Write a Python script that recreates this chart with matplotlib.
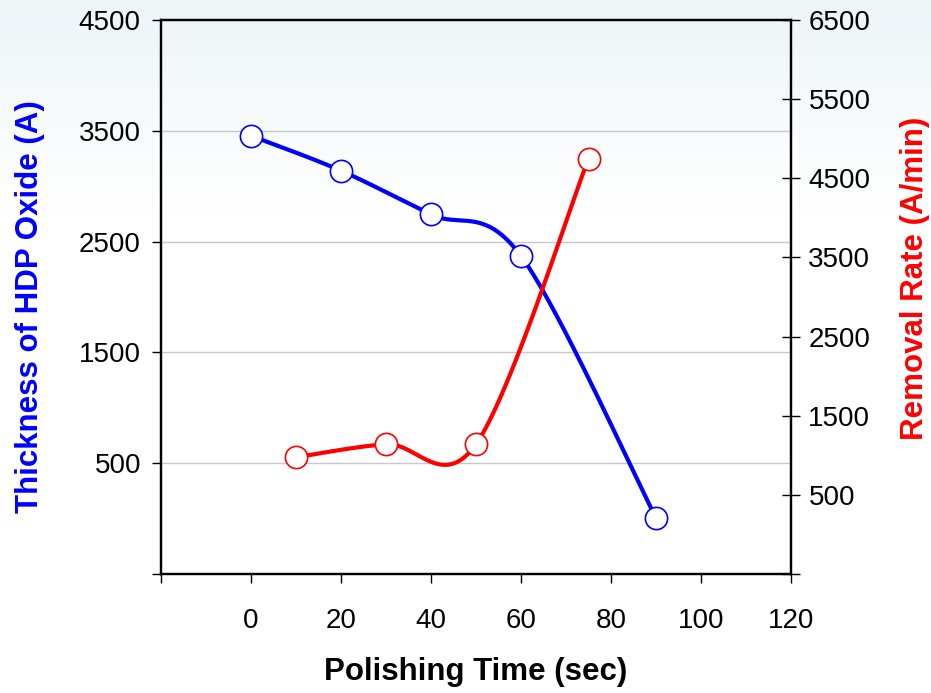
import matplotlib
matplotlib.use("Agg")
import matplotlib.pyplot as plt
import numpy as np

plt.rcParams['font.family'] = ['Liberation Sans', 'DejaVu Sans']

# data
time_thick = [0, 20, 40, 60, 90]
thickness = [3455, 3140, 2745, 2370, 5]
time_rate = [10, 30, 50, 75]
removal_rate = [975, 1140, 1140, 4745]

xticks = [-20, 0, 20, 40, 60, 80, 100, 120]
left_ticks = [-500, 500, 1500, 2500, 3500, 4500]
right_ticks = [-500, 500, 1500, 2500, 3500, 4500, 5500, 6500]

xlim = (-20, 120)
ylim_left = (-500, 4500)
ylim_right = (-500, 6500)


def excel_smooth(x, y, sx, sy, n=40):
    # bezier smoothing like excel's "smoothed line", done in pixel space
    p = np.column_stack([np.asarray(x, float) * sx, np.asarray(y, float) * sy])
    out = []
    t = np.linspace(0, 1, n)[:, None]
    for i in range(len(p) - 1):
        p0 = p[i - 1] if i > 0 else p[i]
        p1 = p[i]
        p2 = p[i + 1]
        p3 = p[i + 2] if i + 2 < len(p) else p[i + 1]
        c1 = p1 + (p2 - p0) / 6
        c2 = p2 - (p3 - p1) / 6
        seg = (1 - t)**3 * p1 + 3 * (1 - t)**2 * t * c1 + 3 * (1 - t) * t**2 * c2 + t**3 * p2
        out.append(seg if i == 0 else seg[1:])
    pts = np.vstack(out)
    return pts[:, 0] / sx, pts[:, 1] / sy


fig = plt.figure(figsize=(9.31, 6.93), dpi=100)

# faint gradient behind everything
bg = fig.add_axes([0, 0, 1, 1], zorder=-10)
grad = np.linspace(0, 1, 256)
grad = np.clip(grad / 0.3, 0, 1)[:, None]
top = np.array([0.93, 0.96, 0.97])
img = top[None, None, :] * (1 - grad[:, :, None]) + np.ones(3)[None, None, :] * grad[:, :, None]
bg.imshow(img, aspect='auto', extent=[0, 1, 0, 1])
bg.axis('off')

left, bottom, w, h = 161 / 931, 1 - 574 / 693, 630 / 931, 554 / 693
ax = fig.add_axes([left, bottom, w, h])
ax.patch.set_alpha(0)
ax2 = ax.twinx()

ax.set_xlim(*xlim)
ax.set_ylim(*ylim_left)
ax2.set_ylim(*ylim_right)

sx = 630 / (xlim[1] - xlim[0])
sy1 = 554 / (ylim_left[1] - ylim_left[0])
sy2 = 554 / (ylim_right[1] - ylim_right[0])

for v in [500, 1500, 2500, 3500]:
    ax.axhline(v, color='#c8c8c8', linewidth=1, zorder=0)

bx, by = excel_smooth(time_thick, thickness, sx, sy1)
ax.plot(bx, by, color='#0000ff', linewidth=3, zorder=3, solid_capstyle='round')
ax.plot(time_thick, thickness, linestyle='none', marker='o', markersize=16,
        markerfacecolor='white', markeredgecolor='#0000ff', markeredgewidth=1.2, zorder=4)

rx, ry = excel_smooth(time_rate, removal_rate, sx, sy2)
ax2.plot(rx, ry, color='#ff0000', linewidth=3, zorder=3, solid_capstyle='round')
ax2.plot(time_rate, removal_rate, linestyle='none', marker='o', markersize=16,
         markerfacecolor='white', markeredgecolor='#ff0000', markeredgewidth=1.2, zorder=4)

ax.set_xticks(xticks)
ax.set_xticklabels(['' if v < 0 else str(v) for v in xticks])
ax.set_yticks(left_ticks)
ax.set_yticklabels(['' if v < 0 else str(v) for v in left_ticks])
ax2.set_yticks(right_ticks)
ax2.set_yticklabels(['' if v < 0 else str(v) for v in right_ticks])

for a in (ax, ax2):
    for s in a.spines.values():
        s.set_linewidth(1.6)
        s.set_color('black')

ax.tick_params(axis='x', direction='out', length=6.5, width=1, labelsize=20, pad=18)
ax.tick_params(axis='y', direction='out', length=6.5, width=1, labelsize=20, pad=8)
ax2.tick_params(axis='y', direction='inout', length=13, width=1, labelsize=20, pad=6)

fig.text(30 / 931, 1 - 307 / 693, 'Thickness of HDP Oxide (A)', rotation=90,
         ha='center', va='center', fontsize=22.5, fontweight='bold', color='#0000ff')
fig.text(915 / 931, 1 - 278 / 693, 'Removal Rate (A/min)', rotation=90,
         ha='center', va='center', fontsize=22.5, fontweight='bold', color='#ff0000')
fig.text(476 / 931, 1 - 672 / 693, 'Polishing Time (sec)',
         ha='center', va='center', fontsize=22.5, fontweight='bold', color='black')

fig.savefig('out.png', dpi=100)
